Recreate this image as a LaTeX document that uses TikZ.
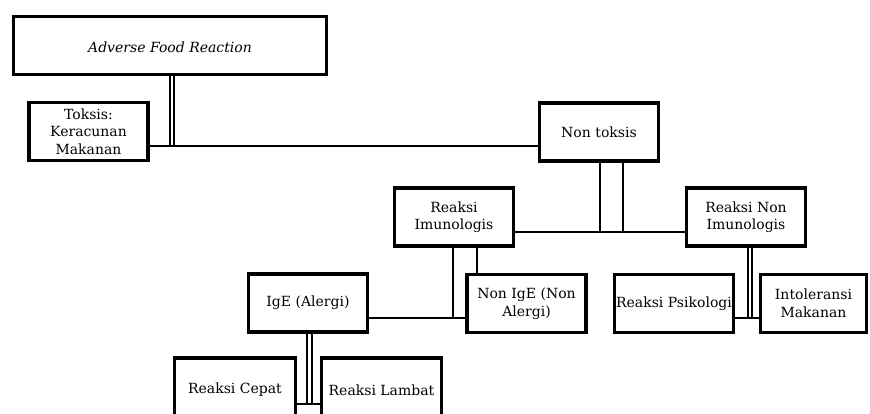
\documentclass[tikz,border=0pt]{standalone}
\usepackage{fontspec}
\setmainfont{DejaVu Serif}
\usetikzlibrary{calc}
\tikzstyle{box}=[rectangle,draw=black,line width=3.4pt,fill=white,minimum width=119pt,minimum height=58pt,inner sep=1pt,align=center,font=\fontsize{14}{17.5}\selectfont]
\tikzstyle{link}=[draw,line width=1.4pt]

\begin{document}
\begin{tikzpicture}[x=1pt,y=-1pt]
    \useasboundingbox (0,0) rectangle (870,414);
    \clip (0,0) rectangle (870,414);
    % the boxes of the tree
    \node[box,minimum width=313pt,text height=14pt] (adverse) at (170,45.5) {\itshape Adverse Food Reaction};
    \foreach \pos/\name/\label in {{(88.5,131.5)/toksis/{Toksis:\\Keracunan\\Makanan}}, {(599,132)/nontoksis/{Non toksis}}, {(454,217)/imun/{Reaksi\\Imunologis}}, {(746,217)/nonimun/{Reaksi Non\\Imunologis}}, {(308,303)/ige/{IgE (Alergi)}}, {(526.5,303.5)/nonige/{Non IgE (Non\\Alergi)}}, {(674,303.5)/psiko/{Reaksi Psikologi}}}
        \node[box] (\name) at \pos {\label};
    \node[box,minimum width=106pt] (intol) at (813.5,303.5) {Intoleransi\\Makanan};
    \node[box,minimum width=121pt,minimum height=64pt] (cepat) at (235,390) {Reaksi Cepat};
    \node[box,minimum width=120pt,minimum height=64pt] (lambat) at (381.5,390) {Reaksi Lambat};

    % junction points
    \coordinate (j1a) at (170,146);  \coordinate (j1b) at (174,146);
    \coordinate (j2a) at (600,232);  \coordinate (j2b) at (623,232);
    \coordinate (j3a) at (453,318);  \coordinate (j3b) at (477,318);
    \coordinate (j4a) at (307,404);  \coordinate (j4b) at (312,404);
    \coordinate (j5a) at (748,318);  \coordinate (j5b) at (752,318);

    % vertical drops below each parent
    \foreach \parent/\j in {adverse/j1a, adverse/j1b, nontoksis/j2a, nontoksis/j2b, imun/j3a, ige/j4a, ige/j4b, nonimun/j5a, nonimun/j5b}
        \path[link] (\parent.south -| \j) -- (\j);
    \path[link] (imun.south -| j3b) -- (nonige.north -| j3b);

    % horizontal links between siblings
    \foreach \left/\right/\j in {toksis/nontoksis/j1a, imun/nonimun/j2a, ige/nonige/j3a, cepat/lambat/j4a, psiko/intol/j5a}
        \path[link] (\left.east |- \j) -- (\right.west |- \j);
\end{tikzpicture}
\end{document}
